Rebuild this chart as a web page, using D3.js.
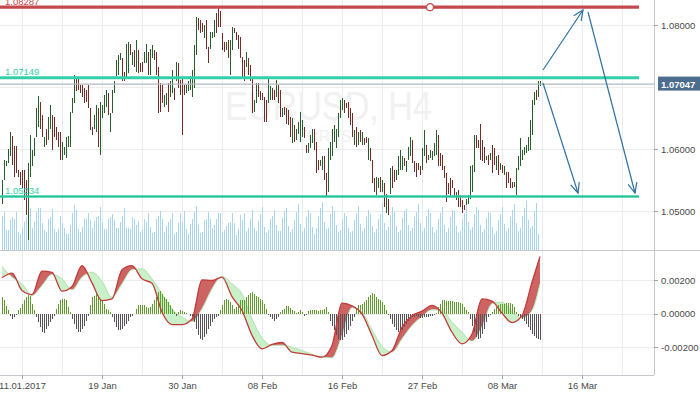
<!DOCTYPE html>
<html>
<head>
<meta charset="utf-8">
<script src="https://cdn.jsdelivr.net/npm/d3@7/dist/d3.min.js"></script>
<style>
  html, body { margin: 0; padding: 0; background: #fff; }
  svg { display: block; font-family: "Liberation Sans", Arial, sans-serif; }
</style>
</head>
<body>
<svg id="chart" width="700" height="394"></svg>
<script>
// EURUSD H4 bars, one per 4h candle (high / low / direction)
var highs = [
  1.0550,1.0583,1.0580,1.0600,1.0628,1.0621,1.0605,1.0605,1.0566,1.0563,
  1.0566,1.0566,1.0550,1.0577,1.0623,1.0598,1.0617,1.0666,1.0685,1.0676,
  1.0655,1.0620,1.0633,1.0652,1.0671,1.0655,1.0652,1.0636,1.0628,1.0628,
  1.0612,1.0604,1.0620,1.0621,1.0660,1.0682,1.0719,1.0714,1.0714,1.0703,
  1.0703,1.0698,1.0695,1.0703,1.0666,1.0636,1.0655,1.0671,1.0666,1.0676,
  1.0671,1.0687,1.0695,1.0690,1.0658,1.0695,1.0709,1.0744,1.0752,1.0755,
  1.0746,1.0725,1.0770,1.0773,1.0770,1.0757,1.0760,1.0776,1.0760,1.0738,
  1.0741,1.0757,1.0770,1.0757,1.0762,1.0768,1.0760,1.0757,1.0733,1.0706,
  1.0703,1.0687,1.0690,1.0706,1.0709,1.0727,1.0698,1.0741,1.0738,1.0711,
  1.0714,1.0703,1.0703,1.0709,1.0717,1.0727,1.0768,1.0813,1.0811,1.0808,
  1.0803,1.0800,1.0808,1.0765,1.0789,1.0789,1.0808,1.0819,1.0829,1.0822,
  1.0787,1.0773,1.0773,1.0776,1.0776,1.0797,1.0795,1.0789,1.0784,1.0781,
  1.0749,1.0744,1.0757,1.0746,1.0736,1.0714,1.0679,1.0706,1.0706,1.0693,
  1.0690,1.0684,1.0679,1.0714,1.0701,1.0698,1.0695,1.0712,1.0703,1.0695,
  1.0666,1.0668,1.0666,1.0663,1.0652,1.0650,1.0639,1.0633,1.0644,1.0660,
  1.0647,1.0636,1.0606,1.0609,1.0623,1.0633,1.0633,1.0612,1.0582,1.0582,
  1.0588,1.0588,1.0561,1.0601,1.0612,1.0633,1.0639,1.0633,1.0658,1.0679,
  1.0682,1.0679,1.0674,1.0676,1.0666,1.0658,1.0631,1.0636,1.0628,1.0631,
  1.0628,1.0617,1.0620,1.0617,1.0601,1.0582,1.0553,1.0555,1.0553,1.0555,
  1.0550,1.0545,1.0528,1.0520,1.0569,1.0572,1.0566,1.0566,1.0588,1.0598,
  1.0588,1.0585,1.0580,1.0604,1.0620,1.0615,1.0580,1.0577,1.0577,1.0572,
  1.0601,1.0631,1.0606,1.0590,1.0598,1.0596,1.0609,1.0631,1.0623,1.0593,
  1.0590,1.0572,1.0561,1.0545,1.0553,1.0550,1.0537,1.0531,1.0534,1.0526,
  1.0518,1.0510,1.0520,1.0526,1.0572,1.0574,1.0623,1.0623,1.0615,1.0641,
  1.0615,1.0604,1.0588,1.0590,1.0593,1.0606,1.0601,1.0588,1.0590,1.0577,
  1.0574,1.0572,1.0563,1.0563,1.0553,1.0547,1.0547,1.0569,1.0588,1.0617,
  1.0598,1.0604,1.0606,1.0620,1.0647,1.0679,1.0692,1.0695,1.0709,1.0709
];
var lows = [
  1.0512,1.0550,1.0572,1.0577,1.0588,1.0574,1.0555,1.0561,1.0555,1.0542,
  1.0537,1.0518,1.0494,1.0453,1.0555,1.0572,1.0588,1.0620,1.0636,1.0633,
  1.0620,1.0604,1.0606,1.0615,1.0633,1.0598,1.0620,1.0615,1.0604,1.0582,
  1.0582,1.0590,1.0585,1.0604,1.0604,1.0658,1.0674,1.0693,1.0695,1.0690,
  1.0684,1.0674,1.0676,1.0666,1.0631,1.0623,1.0633,1.0628,1.0604,1.0590,
  1.0650,1.0658,1.0668,1.0655,1.0628,1.0658,1.0690,1.0717,1.0719,1.0744,
  1.0709,1.0709,1.0714,1.0722,1.0752,1.0736,1.0733,1.0725,1.0722,1.0725,
  1.0725,1.0738,1.0738,1.0719,1.0719,1.0746,1.0744,1.0719,1.0658,1.0660,
  1.0674,1.0668,1.0671,1.0660,1.0684,1.0690,1.0679,1.0709,1.0698,1.0687,
  1.0623,1.0687,1.0690,1.0693,1.0695,1.0684,1.0698,1.0752,1.0792,1.0787,
  1.0789,1.0779,1.0762,1.0738,1.0762,1.0779,1.0781,1.0787,1.0797,1.0797,
  1.0760,1.0757,1.0760,1.0746,1.0719,1.0760,1.0787,1.0776,1.0762,1.0746,
  1.0714,1.0709,1.0733,1.0719,1.0709,1.0658,1.0660,1.0674,1.0684,1.0679,
  1.0679,1.0644,1.0644,1.0674,1.0679,1.0679,1.0679,1.0684,1.0674,1.0652,
  1.0652,1.0655,1.0641,1.0639,1.0620,1.0609,1.0612,1.0615,1.0625,1.0612,
  1.0620,1.0617,1.0593,1.0593,1.0601,1.0609,1.0598,1.0561,1.0566,1.0572,
  1.0566,1.0550,1.0523,1.0531,1.0582,1.0588,1.0612,1.0601,1.0620,1.0650,
  1.0663,1.0658,1.0666,1.0650,1.0639,1.0620,1.0606,1.0604,1.0606,1.0612,
  1.0606,1.0606,1.0609,1.0582,1.0580,1.0545,1.0531,1.0526,1.0537,1.0531,
  1.0531,1.0507,1.0496,1.0494,1.0528,1.0537,1.0547,1.0550,1.0558,1.0566,
  1.0566,1.0572,1.0563,1.0582,1.0588,1.0577,1.0563,1.0555,1.0566,1.0558,
  1.0566,1.0588,1.0577,1.0582,1.0585,1.0582,1.0588,1.0590,1.0572,1.0572,
  1.0566,1.0553,1.0515,1.0528,1.0523,1.0537,1.0523,1.0518,1.0507,1.0507,
  1.0496,1.0502,1.0510,1.0512,1.0520,1.0531,1.0563,1.0601,1.0601,1.0582,
  1.0580,1.0577,1.0582,1.0574,1.0582,1.0561,1.0574,1.0566,1.0558,1.0566,
  1.0561,1.0558,1.0537,1.0545,1.0537,1.0537,1.0539,1.0526,1.0566,1.0572,
  1.0582,1.0590,1.0593,1.0596,1.0598,1.0623,1.0671,1.0679,1.0684,1.0701
];
var dirs = ("uuuuuddddd" + "ddduuuuuud" + "duduuddddd" + "uuuuuuuddd" + "dddddduudu" +
            "uuuduuuuuu" + "dduudududd" + "duuduudddd" + "duuduududd" + "dduuuuuudd" +
            "dudduuuddd" + "dduduudddd" + "dduddduudd" + "ddduuddudd" + "udddduduuu" +
            "udduuudddu" + "udduuuuuuu" + "udddddudud" + "udduddduud" + "udududduuu" +
            "uduuuddddd" + "uuduuuuudd" + "dddddddudd" + "dduuuuuddd" + "ddududdudu" +
            "dudddduuuu" + "uuuuuuuduu").split("");

// tick volume, thousands
var volume = [
  9.1,10.2,5.3,5.3,8.0,8.7,8.4,10.1,4.9,4.3,6.0,7.6,8.9,10.0,11.1,5.8,7.6,10.2,11.1,11.1,
  7.3,5.3,4.7,8.4,8.7,10.9,5.5,4.9,5.5,9.1,7.3,6.0,4.3,4.3,6.7,9.8,12.0,10.8,5.5,4.9,
  6.2,8.4,8.2,10.0,8.0,6.0,7.8,8.9,9.1,11.6,7.6,5.5,5.5,8.2,8.9,9.6,8.0,5.8,6.0,7.6,
  9.2,11.1,6.0,5.8,5.5,8.7,8.4,6.7,7.8,4.9,5.3,8.2,7.6,10.0,6.2,4.6,4.9,8.2,9.1,10.5,
  8.2,4.9,6.4,7.6,8.4,9.8,4.4,4.9,7.1,9.8,7.6,10.5,5.5,4.4,6.9,8.4,10.2,11.7,6.7,4.6,
  4.9,8.0,8.4,10.2,8.4,5.8,6.7,8.4,10.0,10.0,4.9,5.3,6.4,7.1,7.6,10.0,7.3,4.0,5.5,9.3,
  8.0,10.0,5.2,5.8,
  8.4,10.6,6.0,5.0,7.8,9.6, 11.4,6.2,4.6,5.4,8.2,9.0, 10.8,6.6,5.0,5.2,8.6,10.4,
  11.2,6.4,4.8,5.6,8.0,10.2, 12.4,7.0,5.2,6.0,8.8,10.6, 9.8,6.2,4.4,5.8,9.2,11.2,
  12.8,7.4,5.6,6.0,9.6,11.8, 10.4,6.6,4.8,5.4,8.4,10.0, 9.2,6.0,4.6,5.2,8.0,9.8,
  11.8,7.0,5.0,5.8,8.8,10.8, 9.6,6.4,4.6,5.6,8.2,9.6, 12.6,7.2,5.4,6.2,9.4,11.4,
  10.2,6.4,4.8,5.4,8.6,10.4, 11.0,6.8,5.0,5.8,8.8,10.2, 12.2,7.2,5.2,6.0,9.0,11.0,
  9.8,6.2,4.6,5.4,8.2,10.0, 11.6,6.8,4.8,5.8,8.8,10.6, 10.4,6.4,4.6,5.2,8.4,9.8,
  12.8,7.4,5.4,6.2,9.6,11.6, 10.6,6.6,4.8,5.6,8.6,10.2, 9.8,6.2,4.4,5.0,8.0,9.6,
  11.4,7.0,5.0,5.8,8.8,10.8, 12.2,7.2,5.2,6.0,9.2,11.2, 13.2,8.0,6.0,6.4,10.4,12.6,
  4.2
];

// oscillator histogram, pips (1e-4)
var histogram = [
  9.8,7.8,4.2,1.8,-1.2,-3.2,-2.2,-0.6,
  1.8,3.4,5.8,7.8,9.8,11.3,10.7,5.8,2.2,
  -2.2,-5.2,-8.2,-11.1,-11.7,-9.2,-7.2,-5.2,-3.2,-1.2,
  2.8,5.8,7.8,8.8,8.8,7.8,3.8,0.8,
  -3.2,-6.2,-9.2,-11.1,-11.1,-9.2,-7.2,-4.2,-1.2,
  4.8,9.8,10.7,11.7,10.7,8.8,7.8,5.8,2.8,1.8,0.8,
  -2.2,-5.2,-8.2,-10.1,-10.1,-9.2,-7.2,-6.2,-4.2,-2.2,-1.2,-0.2,
  2.8,4.8,5.2,5.2,4.8,3.8,3.4,3.8,5.8,7.8,9.8,
  12.7,13.7,11.7,9.8,8.8,6.8,4.8,2.8,0.8,
  -1.2,0.8,1.8,1.4,0.8,0.2,-0.2,-1.2,-2.2,
  -5.2,-9.2,-13.1,-15.1,-15.7,-14.1,-12.1,-9.2,-7.2,-5.2,-3.2,-2.2,-1.2,
  1.8,4.8,7.8,8.8,8.2,6.8,4.8,2.8,3.8,5.8,7.8,8.2,7.8,9.8,11.3,12.1,
  12.7,11.7,10.7,9.8,8.8,7.8,5.8,2.8,
  -0.8,-2.2,-3.2,-4.2,-3.2,-2.2,
  0.8,1.8,2.8,4.2,4.2,3.4,2.2,1.4,
  0.2,0.8,1.8,0.8,
  -1.2,-0.6,1.4,1.8,1.8,2.2,
  1.8,1.4,1.8,2.2,2.8,3.8,0.8,
  -4.2,-7.2,-10.1,-13.1,-15.1,-16.1,-16.1,-14.1,-12.1,-10.1,-7.2,-4.2,-2.2,
  2.8,4.8,4.8,5.8,6.8,7.8,9.8,11.3,12.1,11.7,9.8,8.8,8.2,6.8,4.8,1.8,
  -0.6,
  -3.2,-6.2,-8.2,-10.1,-11.1,-11.1,-9.8,-8.2,-6.2,-4.6,-3.2,-2.2,-1.8,-1.2,
  -2.2,-2.8,-2.8,-2.2,-2.2,-1.8,-1.4,-1.2,-0.6,0.4,
  3.8,5.8,7.8,7.8,7.4,7.4,7.2,7.2,6.8,6.8,6.8,6.2,5.4,3.8,2.2,0.8,
  -3.2,-7.2,-11.1,-14.1,-15.1,-14.5,-12.1,-9.2,-5.2,-2.2,-0.6,
  0.8,2.8,3.8,4.8,5.4,5.8,5.8,6.2,6.2,6.2,5.8,3.8,0.8,
  -1.2,-2.2,-3.2,-4.2,-6.2,-8.2,-10.1,-12.1,-13.7,-14.5,-15.1,-15.7
];

// oscillator lines, pips, sampled every 5th bar plus the last bar
var oscIdx = d3.range(0, 270, 5).concat([269]);
var oscMain = [
  21.3,24.1,13.7,11.3,25.3,24.5,13.3,16.1,28.6,18.3,7.7,8.7,26.1,28.6,20.7,18.1,0.8,-6.6,
  -6.6,-3.2,20.1,19.7,21.7,10.1,1.8,-13.0,-21.1,-18.5,-17.3,-23.1,-23.9,-24.9,-26.1,-19.1,
  6.2,4.6,-0.2,-13.1,-25.1,-22.1,-8.2,-1.4,1.4,4.8,0.2,-11.2,-18.1,-12.2,8.7,7.4,0.2,-5.4,
  -1.2,18.7,34.0
];
var oscSignal = [
  28.0,21.7,17.7,10.7,16.7,23.3,20.7,14.1,21.7,24.7,19.3,9.7,17.7,26.1,26.7,20.7,11.7,2.8,
  -2.2,-4.8,2.8,14.7,22.1,17.7,11.7,-3.2,-14.5,-19.1,-18.9,-20.1,-22.1,-24.3,-25.9,-26.5,
  -13.1,3.4,0.8,-9.8,-19.5,-23.1,-15.1,-7.2,-1.8,2.2,1.8,-5.2,-11.2,-16.5,-7.8,5.8,6.8,0.8,
  -2.6,1.8,17.7
];

var priceGrid = [1.05, 1.06, 1.07, 1.08];
var priceTicks = [1.05, 1.06, 1.08];   // 1.07000 sits under the last-price tag
var oscTicks = [-0.002, 0, 0.002];
var dateIdx = [10, 50, 90, 130, 170, 210, 250, 290];
var dateLabels = ["11.01.2017", "19 Jan", "30 Jan", "08 Feb", "16 Feb", "27 Feb", "08 Mar", "16 Mar"];

var levelPrices = [1.08287, 1.07149, 1.05234];
var levelEnd = 318.5;       // bar index where the drawn levels stop
var lastPrice = 1.07047;
// forecast arrows: [barIndex, price] from -> to
var arrows = [
  [[270.5, 1.07274], [290.5, 1.08242]],
  [[270.5, 1.07065], [288, 1.0529]],
  [[293, 1.0821], [316.5, 1.0529]]
];

var svg = d3.select("#chart");
var plotR = 654;

var x = d3.scaleLinear().domain([-1, 326]).range([0, plotR]);
var y = d3.scaleLinear().domain([1.05, 1.08]).range([211, 25]);
var yVol = d3.scaleLinear().domain([0, 16]).range([250, 190]);
var yOsc = d3.scaleLinear().domain([-0.002, 0.002]).range([347, 280]);

var UP = "#285e2c", DOWN = "#742a25";
var TEAL = "#33cfa9", RED = "#c5484c";

// grid
var grid = svg.append("g").attr("shape-rendering", "crispEdges").attr("stroke", "#ececec");
grid.selectAll(".v").data(d3.range(10, 326, 20)).join("line")
  .attr("x1", d => Math.round(x(d)) + 0.5).attr("x2", d => Math.round(x(d)) + 0.5)
  .attr("y1", 0).attr("y2", 375);
grid.selectAll(".h").data(priceGrid).join("line")
  .attr("x1", 0).attr("x2", plotR)
  .attr("y1", d => Math.round(y(d)) + 0.5).attr("y2", d => Math.round(y(d)) + 0.5);
grid.selectAll(".o").data(oscTicks).join("line")
  .attr("x1", 0).attr("x2", plotR)
  .attr("y1", d => Math.round(yOsc(d)) + 0.5).attr("y2", d => Math.round(yOsc(d)) + 0.5);

// watermark
svg.append("text").attr("x", 225).attr("y", 120)
  .attr("font-size", 40).attr("fill", "#f1f1f1")
  .attr("textLength", 207).attr("lengthAdjust", "spacingAndGlyphs")
  .text("EURUSD, H4");
svg.append("text").attr("x", 297).attr("y", 142)
  .attr("font-size", 16).attr("fill", "#f2f2f2")
  .attr("textLength", 66).attr("lengthAdjust", "spacingAndGlyphs")
  .text("EURUSD");

// volume
svg.append("g").attr("shape-rendering", "crispEdges")
  .selectAll("line").data(volume).join("line")
  .attr("x1", (d, i) => x(i) + 0.5).attr("x2", (d, i) => x(i) + 0.5)
  .attr("y1", yVol(0)).attr("y2", d => yVol(d))
  .attr("stroke", "#a9d5f0");

// price bars
svg.append("g").attr("shape-rendering", "crispEdges")
  .selectAll("line").data(highs).join("line")
  .attr("x1", (d, i) => x(i) + 0.5).attr("x2", (d, i) => x(i) + 0.5)
  .attr("y1", d => y(d))
  .attr("y2", (d, i) => Math.max(y(lows[i]), y(d) + 1))
  .attr("stroke", (d, i) => dirs[i] === "u" ? UP : DOWN);

// current price line
svg.append("line").attr("x1", 0).attr("x2", plotR)
  .attr("y1", y(lastPrice)).attr("y2", y(lastPrice))
  .attr("stroke", "#b2bac2").attr("stroke-width", 1.2);

// horizontal levels
var levelStyle = [
  { c: RED, w: 3.2 },
  { c: TEAL, w: 3.2 },
  { c: TEAL, w: 3 }
];
var lv = svg.append("g");
levelPrices.forEach(function(p, k) {
  var st = levelStyle[k];
  lv.append("line").attr("x1", 0).attr("x2", x(levelEnd))
    .attr("y1", y(p)).attr("y2", y(p))
    .attr("stroke", st.c).attr("stroke-width", st.w)
    .attr("opacity", k === 2 ? 0.75 : 1);
  if (k === 2) {
    lv.append("line").attr("x1", 0).attr("x2", x(levelEnd))
      .attr("y1", y(p)).attr("y2", y(p))
      .attr("stroke", "#2bbf98").attr("stroke-width", 1);
  }
  lv.append("text").attr("x", 5).attr("y", y(p) - 2.5)
    .attr("font-size", 9.5).attr("fill", st.c)
    .text(p.toFixed(5));
});
lv.append("circle").attr("cx", x(214)).attr("cy", y(levelPrices[0]))
  .attr("r", 3.5).attr("fill", "#fff").attr("stroke", RED).attr("stroke-width", 1.2);

// forecast arrows
var ag = svg.append("g").attr("stroke", "#2f72a3").attr("stroke-width", 1.2).attr("fill", "none");
arrows.forEach(function(a) {
  var p0 = [x(a[0][0]), y(a[0][1])], p1 = [x(a[1][0]), y(a[1][1])];
  ag.append("line").attr("x1", p0[0]).attr("y1", p0[1]).attr("x2", p1[0]).attr("y2", p1[1]);
  var ang = Math.atan2(p1[1] - p0[1], p1[0] - p0[0]), L = 11, s = 0.42;
  ag.append("path").attr("d",
    "M" + (p1[0] - L * Math.cos(ang - s)) + "," + (p1[1] - L * Math.sin(ang - s)) +
    "L" + p1[0] + "," + p1[1] +
    "L" + (p1[0] - L * Math.cos(ang + s)) + "," + (p1[1] - L * Math.sin(ang + s)));
});

// oscillator pane
var mainPts = oscIdx.map((b, k) => [x(b), yOsc(oscMain[k] / 1e4)]);
var sigPts = oscIdx.map((b, k) => [x(b), yOsc(oscSignal[k] / 1e4)]);
var curve = d3.curveMonotoneX;

var defs = svg.append("defs");
var aboveSig = d3.area().curve(curve).x(d => d[0]).y0(250).y1(d => d[1]);
var belowSig = d3.area().curve(curve).x(d => d[0]).y0(d => d[1]).y1(375);
defs.append("clipPath").attr("id", "clipUp").append("path").attr("d", aboveSig(sigPts));
defs.append("clipPath").attr("id", "clipDn").append("path").attr("d", belowSig(sigPts));

var between = d3.area().curve(curve)
  .x((d, k) => mainPts[k][0]).y0((d, k) => mainPts[k][1]).y1((d, k) => sigPts[k][1]);
var og = svg.append("g");
og.append("path").attr("d", between(oscIdx)).attr("fill", "#c9f1c9").attr("clip-path", "url(#clipDn)");
og.append("path").attr("d", between(oscIdx)).attr("fill", "#cd6464").attr("clip-path", "url(#clipUp)");
og.append("path").attr("d", d3.line().curve(curve)(sigPts))
  .attr("fill", "none").attr("stroke", "#b3e8b3").attr("stroke-width", 1);

// histogram
og.append("g").attr("shape-rendering", "crispEdges")
  .selectAll("line").data(histogram).join("line")
  .attr("x1", (d, i) => x(i) + 0.5).attr("x2", (d, i) => x(i) + 0.5)
  .attr("y1", yOsc(0)).attr("y2", d => yOsc(d / 1e4))
  .attr("stroke", d => d >= 0 ? "#5e9b2b" : "#575159");

og.append("path").attr("d", d3.line().curve(curve)(mainPts))
  .attr("fill", "none").attr("stroke", "#c33a38").attr("stroke-width", 1.3);

// frame lines
var fr = svg.append("g").attr("shape-rendering", "crispEdges").attr("stroke", "#c4c8cc");
fr.append("line").attr("x1", 0).attr("x2", 700).attr("y1", 250.5).attr("y2", 250.5);
fr.append("line").attr("x1", 0).attr("x2", plotR).attr("y1", 375.5).attr("y2", 375.5);
fr.append("line").attr("x1", plotR + 0.5).attr("x2", plotR + 0.5).attr("y1", 0).attr("y2", 375);

// axes
function styleAxis(g) {
  g.select(".domain").remove();
  g.selectAll(".tick line").attr("stroke", "#a0a4a8").attr("shape-rendering", "crispEdges");
  g.selectAll(".tick text").attr("fill", "#4a4a4a").attr("font-size", 9.5)
    .attr("font-family", "'Liberation Sans', Arial, sans-serif");
}
svg.append("g").attr("transform", "translate(" + plotR + ",0)")
  .call(d3.axisRight(y).tickValues(priceTicks).tickSize(4).tickFormat(d => d.toFixed(5)))
  .call(styleAxis);
svg.append("g").attr("transform", "translate(" + plotR + ",0)")
  .call(d3.axisRight(yOsc).tickValues(oscTicks).tickSize(4).tickFormat(d => d.toFixed(5)))
  .call(styleAxis);
svg.append("g").attr("transform", "translate(0,375)")
  .call(d3.axisBottom(x).tickValues(dateIdx).tickSize(4).tickFormat((d, i) => dateLabels[i]))
  .call(styleAxis);

// last price tag
var ly = y(lastPrice);
svg.append("rect").attr("x", 658).attr("y", ly - 7.5).attr("width", 42).attr("height", 14)
  .attr("fill", "#4d6d8e");
svg.append("text").attr("x", 661).attr("y", ly + 3.5)
  .attr("font-size", 9.5).attr("fill", "#fff").attr("font-weight", "bold")
  .text(lastPrice.toFixed(5));
</script>
</body>
</html>
